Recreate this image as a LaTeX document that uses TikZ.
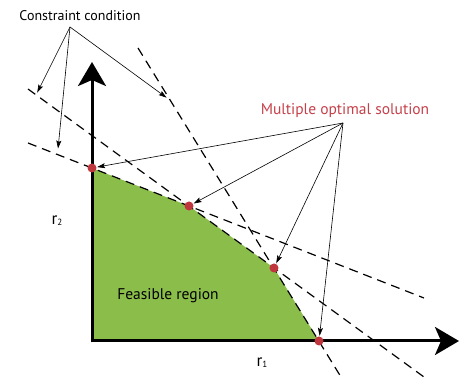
\documentclass[tikz,border=0pt]{standalone}
\usepackage{fontspec}
\setmainfont{PT Sans}
\usetikzlibrary{arrows.meta}
\definecolor{feasgreen}{HTML}{8BBD4B}
\definecolor{optred}{HTML}{C5414A}
\definecolor{dotred}{HTML}{C0363D}
\tikzset{
  axisline/.style={line width=3pt, -{Stealth[length=24pt,width=28pt,inset=6pt]}},
  constraint/.style={line width=1.2pt, dash pattern=on 9pt off 6pt},
  pointer/.style={line width=0.6pt, -{Stealth[length=8pt,width=5pt,inset=1.5pt]}, shorten >=0.5pt},
  optdot/.style={circle, fill=dotred, inner sep=0pt, minimum size=9pt},
  lbl/.style={inner sep=0pt, font=\fontsize{15.5}{17}\selectfont}
}
\begin{document}
\begin{tikzpicture}[x=1pt,y=-1pt]
\useasboundingbox (0,0) rectangle (459,379);
% optimal points
\coordinate (p1) at (92,168);
\coordinate (p2) at (189,206);
\coordinate (p3) at (274,268);
\coordinate (p4) at (319,341);
% feasible region
\fill[feasgreen] (92,341) -- (p1) -- (p2) -- (p3) -- (p4) -- cycle;
% constraint lines
\coordinate (a1) at (28,143);
\coordinate (a2) at (424,298);
\coordinate (b1) at (28,89);
\coordinate (b2) at (424,377);
\coordinate (c1) at (138,48);
\coordinate (c2) at (341,377);
\draw[constraint] (a1) -- (a2);
\draw[constraint] (b1) -- (b2);
\draw[constraint] (c1) -- (c2);
% axes
\coordinate (o) at (92,341);
\coordinate (ytip) at (92,62);
\coordinate (xtip) at (459,341);
\draw[axisline] ([yshift=-1.5pt]o) -- (ytip);
\draw[axisline] ([xshift=-1.5pt]o) -- (xtip);
% labels
\node[lbl, font=\fontsize{14}{16}\selectfont] (cc) at (80,16) {Constraint condition};
\node[lbl, text=optred] (mo) at (345,111) {Multiple optimal solution};
\node[lbl] (fr) at (168,296) {Feasible region};
\node[inner sep=0pt] (r2) at (57,221) {\fontsize{17}{18}\selectfont r\raisebox{-1pt}{\fontsize{9}{10}\selectfont 2}};
\node[inner sep=0pt] (r1) at (262,363) {\fontsize{17}{18}\selectfont r\raisebox{-1pt}{\fontsize{9}{10}\selectfont 1}};
% dots
\node[optdot] (d1) at (p1) {};
\node[optdot] (d2) at (p2) {};
\node[optdot] (d3) at (p3) {};
\node[optdot] (d4) at (p4) {};
% constraint pointers
\coordinate (cs) at (70,27);
\coordinate (t1) at (37,93);
\coordinate (t2) at (58,149);
\coordinate (t3) at (167,98);
\draw[pointer] (cs) -- (t1);
\draw[pointer] (cs) -- (t2);
\draw[pointer] (cs) -- (t3);
% optimal pointers
\coordinate (ms) at (343,123);
\draw[pointer] (ms) -- (d1);
\draw[pointer] (ms) -- (d2);
\draw[pointer] (ms) -- (d3);
\draw[pointer] (ms) -- (d4);
\end{tikzpicture}
\end{document}
